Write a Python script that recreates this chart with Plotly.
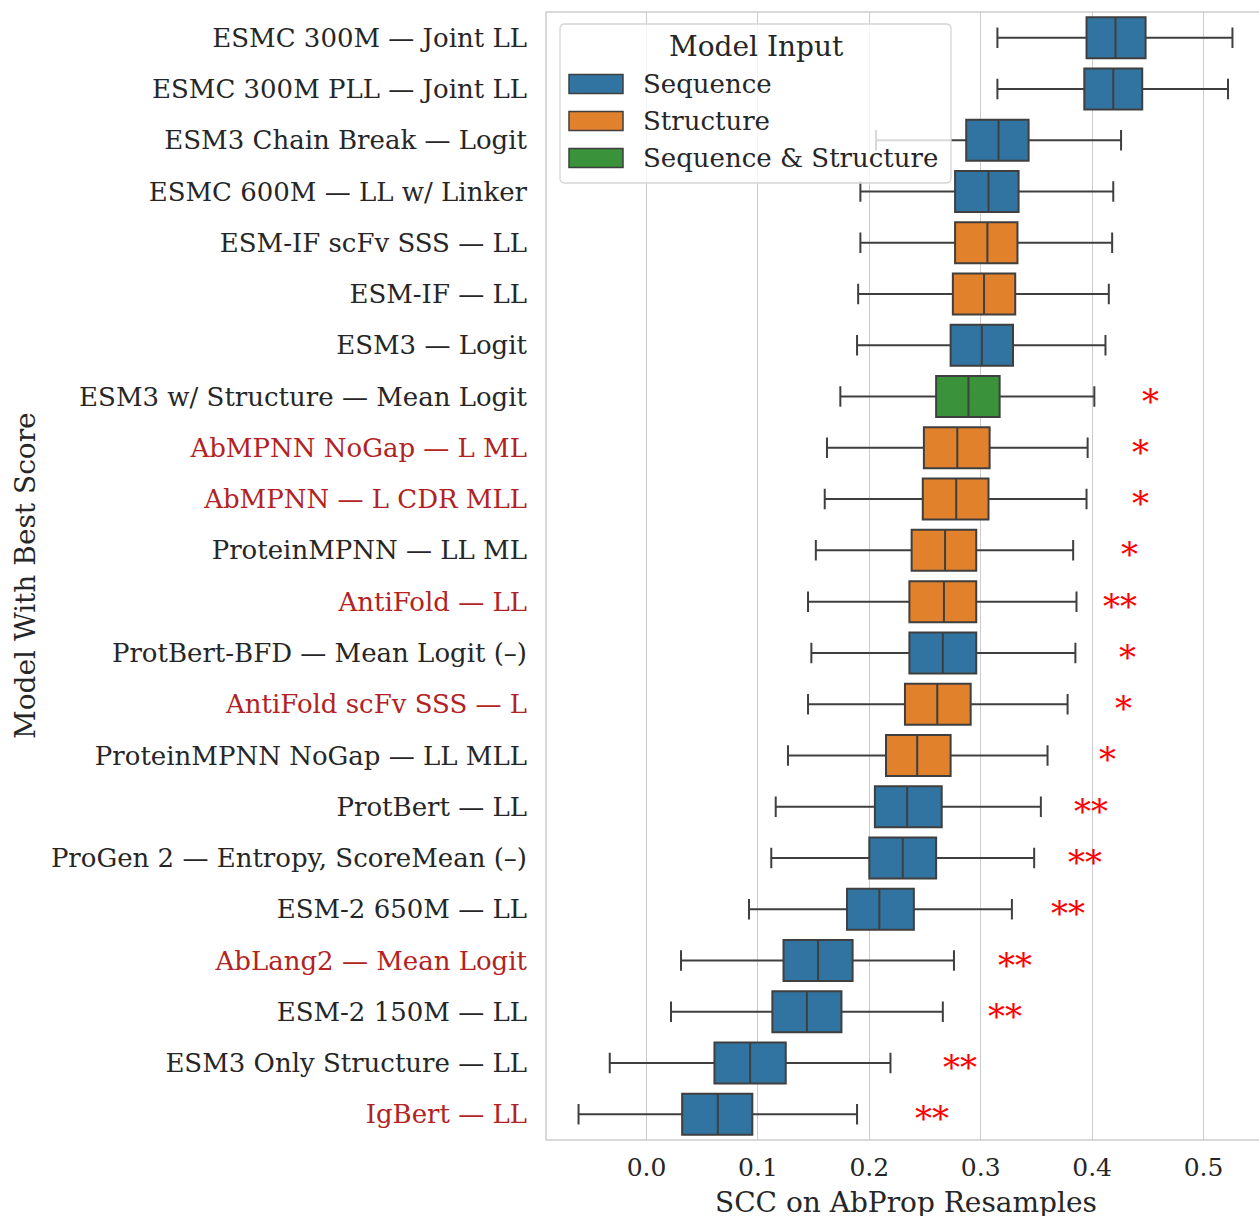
import plotly.graph_objects as go

models = [
    "ESMC 300M — Joint LL", "ESMC 300M PLL — Joint LL", "ESM3 Chain Break — Logit",
    "ESMC 600M — LL w/ Linker", "ESM-IF scFv SSS — LL", "ESM-IF — LL", "ESM3 — Logit",
    "ESM3 w/ Structure — Mean Logit", "AbMPNN NoGap — L ML", "AbMPNN — L CDR MLL",
    "ProteinMPNN — LL ML", "AntiFold — LL", "ProtBert-BFD — Mean Logit (–)",
    "AntiFold scFv SSS — L", "ProteinMPNN NoGap — LL MLL", "ProtBert — LL",
    "ProGen 2 — Entropy, ScoreMean (–)", "ESM-2 650M — LL", "AbLang2 — Mean Logit",
    "ESM-2 150M — LL", "ESM3 Only Structure — LL", "IgBert — LL",
]
model_input = [
    "Sequence", "Sequence", "Sequence", "Sequence", "Structure", "Structure", "Sequence",
    "Sequence & Structure", "Structure", "Structure", "Structure", "Structure", "Sequence",
    "Structure", "Structure", "Sequence", "Sequence", "Sequence", "Sequence", "Sequence",
    "Sequence", "Sequence",
]
highlighted = [False, False, False, False, False, False, False, False, True, True, False,
               True, False, True, False, False, False, False, True, False, False, True]

lower = [0.315, 0.315, 0.206, 0.192, 0.192, 0.190, 0.189, 0.174, 0.162, 0.160, 0.152,
         0.145, 0.148, 0.145, 0.127, 0.116, 0.112, 0.092, 0.031, 0.022, -0.033, -0.061]
q1 = [0.395, 0.393, 0.287, 0.277, 0.277, 0.275, 0.273, 0.260, 0.249, 0.248, 0.238,
      0.236, 0.236, 0.232, 0.215, 0.205, 0.200, 0.180, 0.123, 0.113, 0.061, 0.032]
median = [0.421, 0.419, 0.316, 0.307, 0.306, 0.303, 0.301, 0.289, 0.279, 0.278, 0.268,
          0.267, 0.266, 0.261, 0.243, 0.234, 0.230, 0.209, 0.154, 0.144, 0.093, 0.064]
q3 = [0.448, 0.445, 0.343, 0.334, 0.333, 0.331, 0.329, 0.317, 0.308, 0.307, 0.296,
      0.296, 0.296, 0.291, 0.273, 0.265, 0.260, 0.240, 0.185, 0.175, 0.125, 0.095]
upper = [0.526, 0.522, 0.426, 0.419, 0.418, 0.415, 0.412, 0.402, 0.396, 0.395, 0.383,
         0.386, 0.385, 0.378, 0.360, 0.354, 0.348, 0.328, 0.276, 0.266, 0.219, 0.189]

significance = ["", "", "", "", "", "", "", "*", "*", "*", "*", "**", "*", "*", "*",
                "**", "**", "**", "**", "**", "**", "**"]
sig_x = [None, None, None, None, None, None, None, 0.452, 0.4435, 0.443, 0.4336, 0.4246,
         0.4318, 0.428, 0.4138, 0.3986, 0.394, 0.378, 0.331, 0.322, 0.281, 0.256]

x_ticks = [0.0, 0.1, 0.2, 0.3, 0.4, 0.5]
input_order = ["Sequence", "Structure", "Sequence & Structure"]
colors = {"Sequence": "#3274a1", "Structure": "#e1812c", "Sequence & Structure": "#3a923a"}

FONT = "DejaVu Serif"
TEXT = "#262626"
W, H = 1259, 1216
L, R, T, B = 546, 0, 12, 76
PW, PH = W - L - R, H - T - B


def px(xp):
    return (xp - L) / PW


def py(yp):
    return (H - B - yp) / PH


fig = go.Figure()
for grp in input_order:
    idx = [i for i, g in enumerate(model_input) if g == grp]
    fig.add_trace(go.Box(
        orientation="h",
        y=idx,
        q1=[q1[i] for i in idx],
        median=[median[i] for i in idx],
        q3=[q3[i] for i in idx],
        lowerfence=[lower[i] for i in idx],
        upperfence=[upper[i] for i in idx],
        width=0.8,
        whiskerwidth=0.5,
        fillcolor=colors[grp],
        line=dict(color="#3f3f3f", width=2),
        boxpoints=False,
        name=grp,
        showlegend=False,
        hoverinfo="skip",
    ))

ticktext = [
    f"<span style='color:#b22222'>{m}</span>" if h else m
    for m, h in zip(models, highlighted)
]

annotations = []
for i, (s, sx) in enumerate(zip(significance, sig_x)):
    if s:
        annotations.append(dict(
            x=sx, y=i, xref="x", yref="y", text=s, showarrow=False,
            font=dict(family=FONT, size=34, color="#ff0000"),
            xanchor="center", yanchor="middle", yshift=-4,
        ))

# axis titles
annotations.append(dict(
    x=px(906), y=py(1202), xref="paper", yref="paper",
    text="SCC on AbProp Resamples", showarrow=False,
    font=dict(family=FONT, size=28, color=TEXT), xanchor="center", yanchor="middle",
))
annotations.append(dict(
    x=px(25), y=py(576), xref="paper", yref="paper", text="Model With Best Score",
    showarrow=False, textangle=-90,
    font=dict(family=FONT, size=28, color=TEXT), xanchor="center", yanchor="middle",
))

# legend (drawn manually, matplotlib style)
shapes = []
lx0, lx1, ly0, ly1 = px(560), px(951), py(24), py(183)
rx, ry = 5 / PW, 5 / PH
path = (f"M {lx0+rx},{ly0} L {lx1-rx},{ly0} Q {lx1},{ly0} {lx1},{ly0-ry} "
        f"L {lx1},{ly1+ry} Q {lx1},{ly1} {lx1-rx},{ly1} L {lx0+rx},{ly1} "
        f"Q {lx0},{ly1} {lx0},{ly1+ry} L {lx0},{ly0-ry} Q {lx0},{ly0} {lx0+rx},{ly0} Z")
shapes.append(dict(type="path", path=path, xref="paper", yref="paper",
                   fillcolor="rgba(255,255,255,0.8)", line=dict(color="#d5d5d5", width=1.3),
                   layer="above"))
annotations.append(dict(x=px(756), y=py(46), xref="paper", yref="paper", text="Model Input",
                        showarrow=False, font=dict(family=FONT, size=28, color=TEXT),
                        xanchor="center", yanchor="middle"))
for k, grp in enumerate(input_order):
    cy = [84, 121, 158][k]
    shapes.append(dict(type="rect", xref="paper", yref="paper",
                       x0=px(569), x1=px(623), y0=py(cy - 9.5), y1=py(cy + 9.5),
                       fillcolor=colors[grp], line=dict(color="#3f3f3f", width=1.5),
                       layer="above"))
    annotations.append(dict(x=px(641), y=py(cy), xref="paper", yref="paper", text=grp,
                            showarrow=False, font=dict(family=FONT, size=26, color=TEXT),
                            xanchor="left", yanchor="middle"))

# spines (left, bottom, top); right side is outside the picture
for x0, y0, x1, y1 in [(0, 0, 0, 1), (0, 0, 1, 0), (0, 1, 1, 1)]:
    shapes.append(dict(type="line", xref="paper", yref="paper", x0=x0, y0=y0, x1=x1, y1=y1,
                       line=dict(color="#cccccc", width=1.5), layer="below"))

x_left = (L - 646.5) / 1114.0
x_right = (W - 646.5) / 1114.0

fig.update_layout(
    width=W, height=H,
    margin=dict(l=L, r=R, t=T, b=B, pad=0),
    paper_bgcolor="white", plot_bgcolor="white",
    boxmode="overlay",
    font=dict(family=FONT, color=TEXT),
    xaxis=dict(
        range=[x_left, x_right], tickvals=x_ticks, ticktext=[f"{v:.1f}" for v in x_ticks],
        showgrid=True, gridcolor="#cccccc", gridwidth=1.3, zeroline=False, showline=False,
        ticks="", tickfont=dict(family=FONT, size=25, color=TEXT), ticklabelstandoff=10,
    ),
    yaxis=dict(
        range=[len(models) - 0.5, -0.5], tickvals=list(range(len(models))), ticktext=ticktext,
        showgrid=False, zeroline=False, showline=False, ticks="",
        tickfont=dict(family=FONT, size=26, color=TEXT), ticklabelstandoff=18,
    ),
    shapes=shapes,
    annotations=annotations,
    showlegend=False,
)

fig.write_html(
    "out.html",
    config={"displayModeBar": False},
    post_script="document.body.style.margin='0';document.body.style.overflow='hidden';",
)
